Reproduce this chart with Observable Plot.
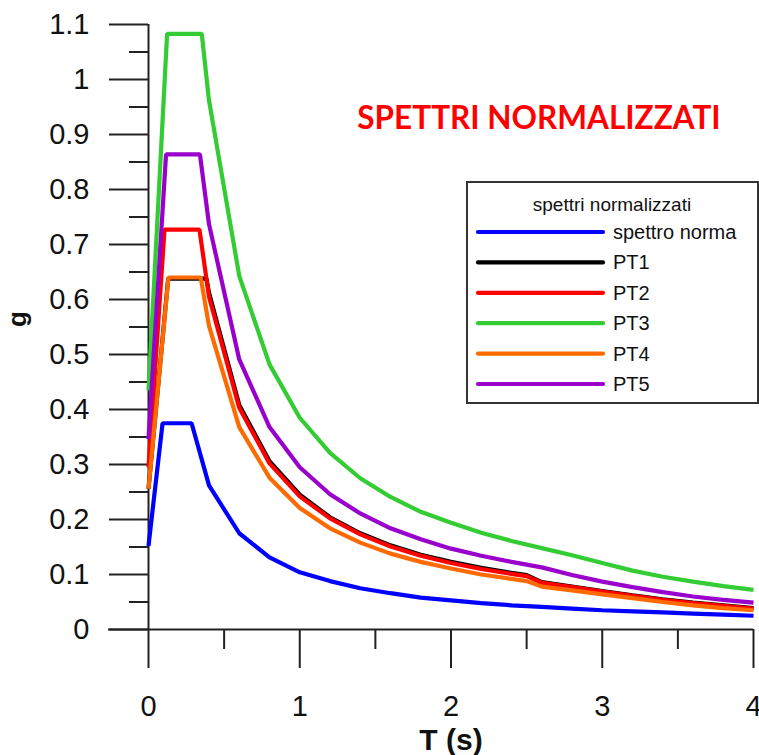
<!DOCTYPE html>
<html>
<head>
<meta charset="utf-8">
<script src="https://cdn.jsdelivr.net/npm/d3@7"></script>
<script src="https://cdn.jsdelivr.net/npm/@observablehq/plot@0.6"></script>
<style>
html, body { margin: 0; padding: 0; background: #fff; }
#wrap { position: relative; width: 759px; height: 755px; overflow: hidden; }
#wrap > svg { display: block; }
#legend { position: absolute; left: 0; top: 0; }
</style>
</head>
<body>
<div id="wrap"></div>
<script>
// ---- data ----
const seriesNames = ["spettro norma", "PT1", "PT2", "PT3", "PT4", "PT5"];
const seriesColors = ["#0000ff", "#000000", "#ff0000", "#33cc33", "#ff6a00", "#9900cc"];
const legendTitle = "spettri normalizzati";
const chartTitle = "SPETTRI NORMALIZZATI";
const xLabel = "T (s)";
const yLabel = "g";

const xTicks = [0, 1, 2, 3, 4];
const xMinorTicks = [0.5, 1.5, 2.5, 3.5];
const yTicks = [0, 0.1, 0.2, 0.3, 0.4, 0.5, 0.6, 0.7, 0.8, 0.9, 1, 1.1];
const yMinorTicks = [0.05, 0.15, 0.25, 0.35, 0.45, 0.55, 0.65, 0.75, 0.85, 0.95, 1.05];

const tNorma = [0, 0.093, 0.285, 0.4, 0.6, 0.8, 1.0, 1.2, 1.4, 1.6, 1.8, 2.0, 2.2, 2.4, 2.6, 2.8, 3.0, 3.2, 3.4, 3.6, 3.8, 4.0];
const gNorma = [0.152, 0.375, 0.375, 0.262, 0.175, 0.131, 0.104, 0.088, 0.075, 0.066, 0.058, 0.053, 0.048, 0.044, 0.041, 0.038, 0.035, 0.033, 0.031, 0.029, 0.027, 0.025];

const tPT1 = [0, 0.13, 0.383, 0.4, 0.6, 0.8, 1.0, 1.2, 1.4, 1.6, 1.8, 2.0, 2.2, 2.4, 2.5, 2.6, 2.8, 3.0, 3.2, 3.4, 3.6, 3.8, 4.0];
const gPT1 = [0.256, 0.638, 0.638, 0.612, 0.408, 0.306, 0.245, 0.204, 0.175, 0.153, 0.136, 0.123, 0.112, 0.103, 0.099, 0.086, 0.078, 0.070, 0.062, 0.055, 0.049, 0.044, 0.039];

const tPT2 = [0, 0.106, 0.337, 0.4, 0.6, 0.8, 1.0, 1.2, 1.4, 1.6, 1.8, 2.0, 2.2, 2.4, 2.5, 2.6, 2.8, 3.0, 3.2, 3.4, 3.6, 3.8, 4.0];
const gPT2 = [0.295, 0.727, 0.727, 0.605, 0.403, 0.302, 0.242, 0.202, 0.173, 0.151, 0.134, 0.121, 0.110, 0.101, 0.097, 0.085, 0.077, 0.069, 0.061, 0.054, 0.048, 0.043, 0.038];

const tPT3 = [0, 0.123, 0.352, 0.4, 0.6, 0.8, 1.0, 1.2, 1.4, 1.6, 1.8, 2.0, 2.2, 2.4, 2.6, 2.8, 3.0, 3.2, 3.4, 3.6, 3.8, 4.0];
const gPT3 = [0.435, 1.083, 1.083, 0.962, 0.643, 0.482, 0.385, 0.321, 0.275, 0.241, 0.214, 0.194, 0.176, 0.161, 0.148, 0.135, 0.121, 0.107, 0.096, 0.087, 0.079, 0.072];

const tPT4 = [0, 0.132, 0.345, 0.4, 0.6, 0.8, 1.0, 1.2, 1.4, 1.6, 1.8, 2.0, 2.2, 2.4, 2.5, 2.6, 2.8, 3.0, 3.2, 3.4, 3.6, 3.8, 4.0];
const gPT4 = [0.256, 0.640, 0.640, 0.552, 0.368, 0.276, 0.221, 0.184, 0.158, 0.138, 0.123, 0.111, 0.100, 0.092, 0.088, 0.078, 0.071, 0.064, 0.057, 0.050, 0.044, 0.039, 0.035];

const tPT5 = [0, 0.116, 0.34, 0.4, 0.6, 0.8, 1.0, 1.2, 1.4, 1.6, 1.8, 2.0, 2.2, 2.4, 2.6, 2.8, 3.0, 3.2, 3.4, 3.6, 3.8, 4.0];
const gPT5 = [0.346, 0.864, 0.864, 0.737, 0.491, 0.368, 0.295, 0.246, 0.211, 0.184, 0.164, 0.147, 0.134, 0.123, 0.113, 0.099, 0.087, 0.077, 0.068, 0.060, 0.054, 0.049];

// ---- tidy table built from the arrays ----
const seriesT = [tNorma, tPT1, tPT2, tPT3, tPT4, tPT5];
const seriesG = [gNorma, gPT1, gPT2, gPT3, gPT4, gPT5];
const rows = [];
seriesNames.forEach((name, i) => {
  seriesT[i].forEach((t, j) => rows.push({series: name, T: t, g: seriesG[i][j]}));
});

const axisColor = "#222";
const textColor = "#111";
const sans = "'Liberation Sans', Arial, sans-serif";

const chart = Plot.plot({
  width: 759,
  height: 755,
  marginLeft: 148,
  marginRight: 6,
  marginTop: 24,
  marginBottom: 126,
  x: {domain: [0, 4], axis: null, label: null},
  y: {domain: [0, 1.1], axis: null, label: null},
  color: {domain: seriesNames, range: seriesColors},
  style: {fontFamily: sans, background: "#fff", color: textColor},
  marks: [
    // minor ticks
    Plot.axisY(yMinorTicks, {tickSize: 19, fill: "none", stroke: axisColor, strokeWidth: 2, label: null}),
    Plot.axisX(xMinorTicks, {tickSize: 20, fill: "none", stroke: axisColor, strokeWidth: 2, label: null}),
    // major ticks + labels
    Plot.axisY(yTicks, {tickSize: 39, tickPadding: 20, fontSize: 29, fill: textColor, stroke: axisColor, strokeWidth: 2,
      tickFormat: d3.format("~g"), label: null}),
    Plot.axisX(xTicks, {tickSize: 39, tickPadding: 27, fontSize: 29, fill: textColor, stroke: axisColor, strokeWidth: 2,
      tickFormat: d3.format("~g"), label: null}),
    // axis lines
    Plot.ruleX([0], {stroke: axisColor, strokeWidth: 2}),
    Plot.ruleY([0], {stroke: axisColor, strokeWidth: 2, insetLeft: -40}),
    // spectra
    Plot.line(rows, {x: "T", y: "g", z: "series", stroke: "series", strokeWidth: 4.2, strokeLinejoin: "miter", strokeLinecap: "butt"}),
    // texts
    Plot.text([chartTitle], {text: d => d, frameAnchor: "top", dx: 88, dy: 94, lineAnchor: "middle",
      fill: "#ff0000", fontSize: 31.5, fontWeight: "bold", fontFamily: "Lato, 'Open Sans', sans-serif"}),
    Plot.text([xLabel], {text: d => d, frameAnchor: "bottom", dy: 111, lineAnchor: "middle",
      fill: textColor, fontSize: 30, fontWeight: "bold"}),
    Plot.text([yLabel], {text: d => d, frameAnchor: "left", dx: -131, rotate: -90, lineAnchor: "middle",
      fill: textColor, fontSize: 26, fontWeight: "bold"})
  ]
});

const wrap = document.getElementById("wrap");
wrap.appendChild(chart);

// ---- legend box (drawn with d3 as an overlay) ----
const lg = d3.select(wrap).append("svg")
  .attr("id", "legend")
  .attr("width", 759).attr("height", 755)
  .style("font-family", sans);
const box = {x: 467, y: 182, w: 291, h: 221};
lg.append("rect").attr("x", box.x).attr("y", box.y).attr("width", box.w).attr("height", box.h)
  .attr("fill", "#fff").attr("stroke", "#333").attr("stroke-width", 2);
lg.append("text").attr("x", box.x + 145).attr("y", box.y + 23).attr("dy", "0.32em")
  .attr("text-anchor", "middle").attr("font-size", 19).attr("fill", textColor).text(legendTitle);
seriesNames.forEach((name, i) => {
  const yy = box.y + 50 + i * 30.4;
  lg.append("line").attr("x1", box.x + 11).attr("x2", box.x + 136).attr("y1", yy).attr("y2", yy)
    .attr("stroke", seriesColors[i]).attr("stroke-width", 4.2).attr("stroke-linecap", "round");
  lg.append("text").attr("x", box.x + 146).attr("y", yy).attr("dy", "0.35em")
    .attr("font-size", 20).attr("fill", textColor).text(name);
});
</script>
</body>
</html>
